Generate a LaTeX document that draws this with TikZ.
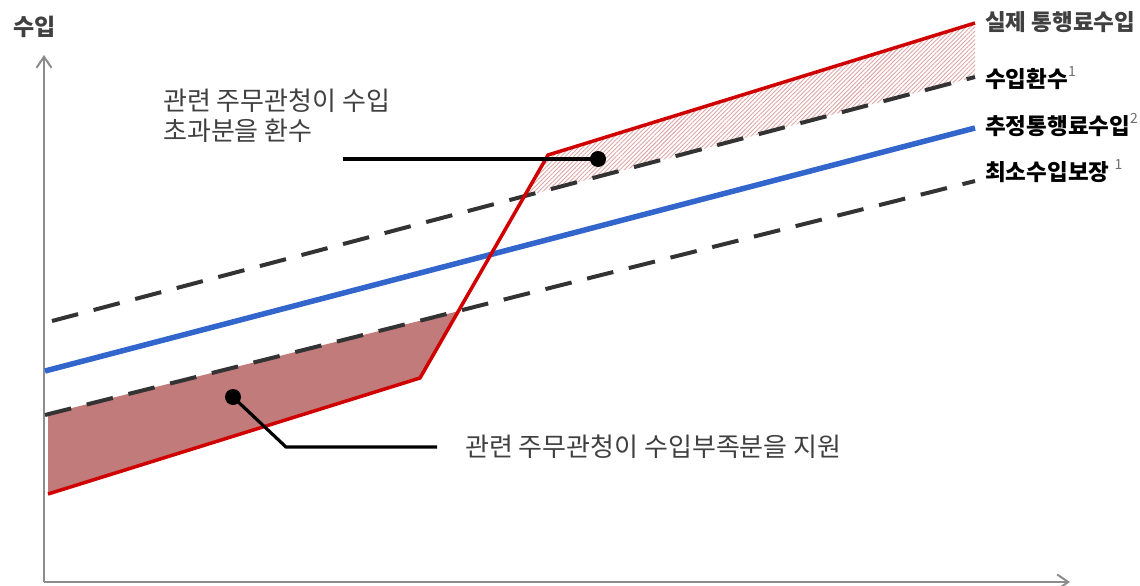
\documentclass[tikz,border=0pt]{standalone}
\usepackage{fontspec}
\setmainfont{Noto Sans CJK KR}
\usetikzlibrary{arrows.meta,patterns.meta}
\definecolor{actred}{RGB}{208,0,0}
\definecolor{estblue}{RGB}{51,102,204}
\definecolor{dashgray}{RGB}{51,51,51}
\definecolor{axisgray}{RGB}{140,140,140}
\definecolor{lossfill}{RGB}{192,123,122}
\definecolor{hatchred}{RGB}{222,165,165}
\definecolor{txtgray}{RGB}{64,64,64}
\definecolor{supgray}{RGB}{110,110,110}
\tikzset{
  axisline/.style={draw=axisgray,line width=2pt,-{Straight Barb[length=11pt,width=15pt,line width=2pt]}},
  dashline/.style={draw=dashgray,line width=4pt,dash pattern=on 27pt off 16pt},
  redline/.style={draw=actred,line width=3.5pt,line join=miter},
  blueline/.style={draw=estblue,line width=5.5pt},
  leader/.style={draw=black,line width=3.2pt},
  dotmark/.style={circle,fill=black,inner sep=0pt,minimum size=16pt},
  rlabel/.style={anchor=base west,inner sep=0pt,font=\fontsize{22.5}{26}\selectfont\bfseries},
  note/.style={anchor=base west,inner sep=0pt,text=txtgray,font=\fontsize{26}{30}\selectfont,align=left},
}
\newcommand{\supnum}[1]{\raisebox{0.5em}{\fontsize{14}{14}\selectfont\mdseries\color{supgray}#1}}
\begin{document}
\begin{tikzpicture}[x=1pt,y=-1pt]
\useasboundingbox (0,0) rectangle (1140,586);
% coordinates
\coordinate (O) at (44,582);
\coordinate (Ytip) at (44,55);
\coordinate (Xtip) at (1070,582);
\coordinate (u0) at (52,321);
\coordinate (u1) at (975,77);
\coordinate (b0) at (45,371);
\coordinate (b1) at (975,128);
\coordinate (l0) at (45,415);
\coordinate (l1) at (975,181);
\coordinate (r0) at (48,494);
\coordinate (r1) at (420,378);
\coordinate (r2) at (548,155);
\coordinate (r3) at (975,23);
% fills
\fill[lossfill] (48,414) -- (458.3,311.2) -- (r1) -- (r0) -- cycle;
\fill[pattern={Lines[angle=45,distance=3pt,line width=0.9pt]},pattern color=hatchred]
  (524.3,196.4) -- (r2) -- (r3) -- (975,77) -- cycle;
% axes
\draw[axisline] (O) -- (Ytip);
\draw[axisline] (O) -- (Xtip);
% lines
\draw[dashline] (u0) -- (u1);
\draw[dashline] (l0) -- (l1);
\draw[blueline] (b0) -- (b1);
\draw[redline] (r0) -- (r1) -- (r2) -- (r3);
% leaders
\node[dotmark] (d1) at (598,159) {};
\coordinate (e1) at (343,159);
\draw[leader] (e1) -- (d1.center);
\node[dotmark] (d2) at (233,397) {};
\coordinate (k2) at (286,447);
\coordinate (e2) at (437,447);
\draw[leader] (d2.center) -- (k2) -- (e2);
% texts
\node[anchor=center,inner sep=0pt,text=txtgray,font=\fontsize{23}{26}\selectfont\bfseries] (ylab) at (35,27) {수입};
\node[note] (n1) at (163,140) {관련 주무관청이 수입\\초과분을 환수};
\node[note] (n2) at (465,456) {관련 주무관청이 수입부족분을 지원};
\node[rlabel,text=txtgray] (t1) at (985,30.5) {실제 통행료수입};
\node[rlabel] (t2) at (985,87.5) {수입환수\supnum{1}};
\node[rlabel] (t3) at (985,134.5) {추정통행료수입\supnum{2}};
\node[rlabel] (t4) at (985,180.5) {최소수입보장 \supnum{1}};
\end{tikzpicture}
\end{document}
